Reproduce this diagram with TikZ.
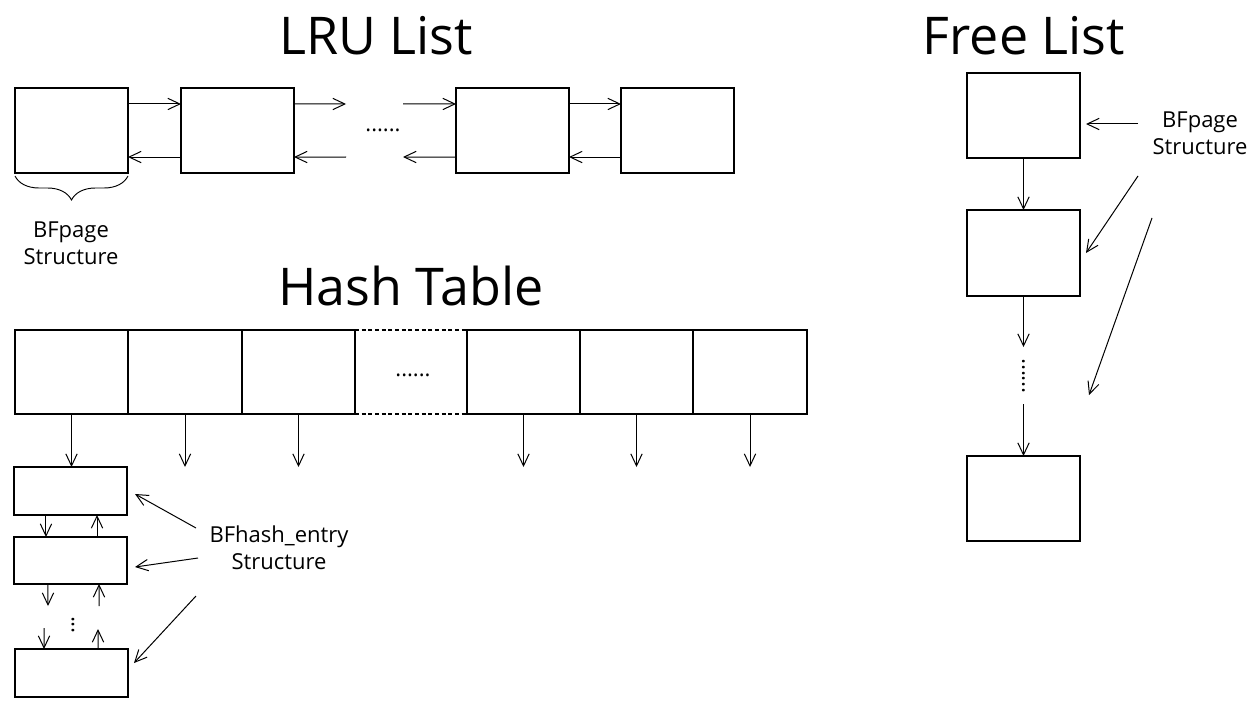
\documentclass[tikz,border=0pt]{standalone}
\usepackage{fontspec}
\setmainfont{Open Sans}
\usetikzlibrary{arrows.meta,fit,decorations.pathreplacing}
\begin{document}
\begin{tikzpicture}[x=0.75pt,y=-0.75pt,
 box/.style={draw,line width=0.8pt,inner sep=0pt,outer sep=0pt},
 arr/.style={-{Straight Barb[length=9pt,width=8.5pt]},line width=0.75pt},
 title/.style={font=\fontsize{39}{48}\selectfont,anchor=base,inner sep=0pt},
 lbl/.style={font=\fontsize{16.5}{20.25}\selectfont,align=center,inner sep=0pt},
 dots/.style={font=\fontsize{16.5}{20}\selectfont,inner sep=0pt}
]
\useasboundingbox (0,0) rectangle (1255,713);
\fill[white] (0,0) rectangle (1255,713);

% titles
\node[title] (tlru) at (376,55) {LRU List};
\node[title] (tfree) at (1024,55) {Free List};
\node[title] (thash) at (411,305) {Hash Table};

% LRU list
\node[box,fit={(15,88)(128,173)}] (l1) {};
\node[box,fit={(181,88)(294,173)}] (l2) {};
\node[box,fit={(456,88)(569,173)}] (l3) {};
\node[box,fit={(621,88)(734,173)}] (l4) {};
\coordinate (ltr) at (346,104);
\coordinate (lbr) at (346,157);
\coordinate (ltl) at (403,104);
\coordinate (lbl) at (403,157);
\draw[arr] ([yshift=19.9pt]l1.east) -- ([yshift=19.9pt]l2.west);
\draw[arr] ([yshift=-19.9pt]l2.west) -- ([yshift=-19.9pt]l1.east);
\draw[arr] ([yshift=19.9pt]l2.east) -- (ltr);
\draw[arr] (lbr) -- ([yshift=-19.9pt]l2.east);
\draw[arr] (ltl) -- ([yshift=19.9pt]l3.west);
\draw[arr] ([yshift=-19.9pt]l3.west) -- (lbl);
\draw[arr] ([yshift=19.9pt]l3.east) -- ([yshift=19.9pt]l4.west);
\draw[arr] ([yshift=-19.9pt]l4.west) -- ([yshift=-19.9pt]l3.east);
\node[dots] (ldots) at (383,130) {......};
\draw[line width=0.7pt,decorate,decoration={brace,amplitude=18pt}] (128,176) -- (15,176);
\node[lbl] (lfp) at (71,243) {BFpage\\Structure};

% hash table
\node[box,fit={(15,330)(128,414)}] (h1) {};
\node[box,fit={(128,330)(242,414)}] (h2) {};
\node[box,fit={(242,330)(355,414)}] (h3) {};
\node[box,fit={(467,330)(580,414)}] (h5) {};
\node[box,fit={(580,330)(693,414)}] (h6) {};
\node[box,fit={(693,330)(807,414)}] (h7) {};
\draw[line width=0.8pt,dash pattern=on 3pt off 2pt] (h3.north east) -- (h5.north west);
\draw[line width=0.8pt,dash pattern=on 3pt off 2pt] (h3.south east) -- (h5.south west);
\node[dots] (hdots) at (413,375) {......};

% hash entries
\node[box,fit={(14,467)(127,515)}] (e1) {};
\node[box,fit={(14,537)(127,584)}] (e2) {};
\node[box,fit={(15,649)(128,697)}] (e3) {};
\draw[arr] (h1.south) -- (h1.south |- e1.north);
\draw[arr] (h2.south) -- (h2.south |- e1.north);
\draw[arr] (h3.south) -- (h3.south |- e1.north);
\draw[arr] (h5.south) -- (h5.south |- e1.north);
\draw[arr] (h6.south) -- (h6.south |- e1.north);
\draw[arr] (h7.south) -- (h7.south |- e1.north);
\draw[arr] ([xshift=-18.4pt]e1.south) -- ([xshift=-18.4pt]e2.north);
\draw[arr] ([xshift=19.9pt]e2.north) -- ([xshift=19.9pt]e1.south);
\coordinate (ed1) at (48,606);
\coordinate (eu1) at (99,606);
\coordinate (ed2) at (44,628);
\coordinate (eu2) at (98,629);
\draw[arr] ([xshift=-16.9pt]e2.south) -- (ed1);
\draw[arr] (eu1) -- ([xshift=21.4pt]e2.south);
\draw[arr] (ed2) -- ([xshift=-20.6pt]e3.north);
\draw[arr] ([xshift=19.9pt]e3.north) -- (eu2);
\node[dots,rotate=90] (edots) at (73,625) {...};
\node[lbl] (lhe) at (279,548) {BFhash\_entry\\Structure};
\coordinate (hp1) at (196,528); \coordinate (hq1) at (135,494);
\coordinate (hp2) at (198,558); \coordinate (hq2) at (135,567);
\coordinate (hp3) at (196,596); \coordinate (hq3) at (134,663);
\draw[arr] (hp1) -- (hq1);
\draw[arr] (hp2) -- (hq2);
\draw[arr] (hp3) -- (hq3);

% free list
\node[box,fit={(967,73)(1080,158)}] (f1) {};
\node[box,fit={(967,210)(1080,296)}] (f2) {};
\node[box,fit={(967,456)(1080,541)}] (f4) {};
\coordinate (fa) at (1023.5,347);
\coordinate (fb) at (1023.5,404);
\draw[arr] (f1.south) -- (f2.north);
\draw[arr] (f2.south) -- (fa);
\draw[arr] (fb) -- (f4.north);
\node[dots,rotate=90] (fdots) at (1023.5,376) {......};
\node[lbl] (lfree) at (1200,133) {BFpage\\Structure};
\coordinate (fp1) at (1138,124); \coordinate (fq1) at (1086,124);
\coordinate (fp2) at (1138,176); \coordinate (fq2) at (1086,253);
\coordinate (fp3) at (1152,218); \coordinate (fq3) at (1089,395);
\draw[arr] (fp1) -- (fq1);
\draw[arr] (fp2) -- (fq2);
\draw[arr] (fp3) -- (fq3);
\end{tikzpicture}
\end{document}
